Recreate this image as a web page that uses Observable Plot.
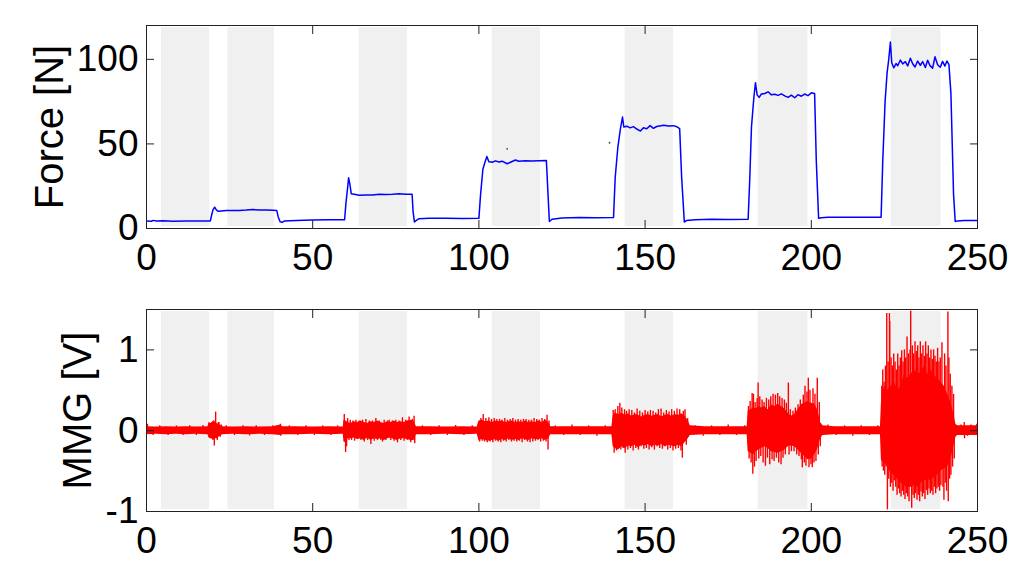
<!DOCTYPE html>
<html>
<head>
<meta charset="utf-8">
<script src="https://cdn.jsdelivr.net/npm/d3@7"></script>
<script src="https://cdn.jsdelivr.net/npm/@observablehq/plot@0.6"></script>
<style>
  html, body { margin: 0; padding: 0; background: #fff; }
  #chart svg { display: block; }
</style>
</head>
<body>
<div id="chart"></div>
<script>
// ---------- data ----------
const xTicks = [0, 50, 100, 150, 200, 250];
const forceTicks = [0, 50, 100];
const mmgTicks = [-1, 0, 1];
const forceTitle = "Force [N]";
const mmgTitle = "MMG [V]";

// shaded intervals (s)
const bandStart = [4.5, 24.5, 64, 104, 144, 184, 224];
const bandEnd   = [19, 38.5, 78.5, 118.5, 158.5, 199, 239];

// force trace (s, N)
const forceT = [0,1.5,2,3,5,8,12,16,19.2,19.6,20,20.5,21,21.5,22.5,24,28,30,32,34,36,38,39.2,39.6,40.2,40.8,41.5,45,50,55,59.6,
  60,60.5,60.8,61.2,61.6,62.5,64,66,68,70,72,74,76,78,79.9,80.2,80.6,81.2,82,85,90,95,100,
  100.5,101.2,101.8,102.4,103,104,105,106,107,108.5,110,111,112,114,116,118,120.3,120.8,121.2,122,125,130,135,140.5,
  141,141.8,142.5,143.2,143.6,144.5,145.5,146.5,147.5,148.6,149.5,150.5,151.5,152.5,153.5,155.6,157,158.5,159.5,160.4,
  161,161.8,162.5,165,170,175,181,
  181.5,182,182.7,183.2,183.7,184.3,185,186,187,188,189,190,191,192,193,194,195,196,197,198,199,200,201,
  201.5,202.2,203,205,210,215,221,
  221.5,222.2,222.8,223.3,223.8,224.2,224.8,225.5,226,226.8,227.5,228.3,229,229.8,230.5,231.2,232,232.8,233.5,234.3,235,235.7,236.5,237.2,238,238.8,239.5,240.2,240.8,241.4,
  242,242.8,243.3,244,246,250];
const forceV = [4.5,4.3,4.8,4.4,4.6,4.3,4.5,4.4,4.5,8,11,12.6,11,10.2,10.4,10.6,10.7,10.9,11.2,10.9,11,10.8,10.6,7,4.0,3.6,4.5,4.8,5.0,5.1,5.2,
  15,24,30,26,20.5,20.3,19.6,19.8,19.8,20.2,20.1,20.3,20.6,20.2,20.3,10,3.9,4.8,5.8,6,6.1,5.9,6,
  20,35,39,42.6,39.5,39.2,40,39.3,39.8,38.3,39.6,40.5,39.8,40.1,39.9,40,40.2,20,4.1,5.5,6.2,6.5,6.4,6.5,
  30,48,58,65.9,60,60.5,59.5,60.2,58.8,57.6,59.5,59,60.8,59.2,60.3,61,60.6,60.8,60.2,59,
  30,3.8,4.8,5.2,5.4,5.3,5.5,
  30,60,77,86.2,79,77.5,79.5,79.8,80.8,79,79.4,78.7,79.6,78.4,77.5,78.8,77.3,79.1,78.2,79.5,78.5,80.2,79.8,
  40,6,6.3,6.6,6.6,6.6,6.7,
  40,75,92,100,110.2,98,95,97.5,96.2,99.6,97.3,98.6,96.1,100.6,97.4,95.5,99,96.5,98.7,95.2,99.5,96.3,94.8,101.5,96.8,95.3,98.8,96,99,97,
  80,20,4.1,4.5,4.8,4.7];

// two stray points in the force panel
const strayT = [108.5, 139.3];
const strayV = [47.1, 50.7];

// MMG dense core envelope (s, V)
const mmgT = [0,3,6,9,12,15,18.5,
  18.8,19.5,20.2,20.8,21.5,22.2,22.9,
  26,30,34,38,40.3,41,45,50,55,59.2,
  59.4,60,60.6,61.5,62.5,63.5,64.5,65.5,66.5,67.5,68.5,69.5,70.5,71.5,72.5,73.5,74.5,75.5,76.5,77.5,78.5,79.5,80.5,81.2,
  85,90,95,99.5,
  100,101,102,103,104,105,106,107,108,109,110,111,112,113,114,115,116,117,118,119,120,121,121.6,
  125,130,135,140,
  140.4,141,142,143,144,145,146,147,148,149,150,151,152,153,154,155,156,157,158,159,160,161,162,163,163.6,
  168,172,176,180.7,
  181,181.8,182.6,183.4,184.2,185,186,187,188,189,190,191,192,193,194,195,196,197,198,199,200,201,202,202.8,203.5,
  207,211,215,220.8,
  221.1,221.6,222.2,223,224,225,226,227,228,229,230,231,232,233,234,235,236,237,238,239,240,241,242,242.9,243.5,244,250];
const mmgHi = [0.05,0.045,0.05,0.045,0.05,0.045,0.05,
  0.1,0.09,0.12,0.1,0.08,0.07,0.05,
  0.045,0.05,0.045,0.05,0.07,0.05,0.05,0.045,0.05,0.045,
  0.13,0.12,0.1,0.09,0.11,0.1,0.12,0.1,0.09,0.11,0.1,0.12,0.1,0.09,0.11,0.1,0.12,0.1,0.11,0.1,0.12,0.13,0.12,0.05,
  0.05,0.045,0.05,0.045,
  0.12,0.13,0.11,0.12,0.1,0.12,0.11,0.12,0.1,0.11,0.12,0.1,0.11,0.1,0.12,0.1,0.11,0.1,0.12,0.1,0.13,0.1,0.05,
  0.05,0.05,0.05,0.05,
  0.18,0.22,0.2,0.22,0.19,0.21,0.18,0.2,0.19,0.17,0.19,0.2,0.18,0.19,0.2,0.17,0.19,0.2,0.18,0.2,0.19,0.21,0.18,0.12,0.06,
  0.05,0.05,0.05,0.05,
  0.24,0.26,0.28,0.27,0.3,0.28,0.3,0.26,0.32,0.3,0.33,0.3,0.27,0.22,0.18,0.2,0.26,0.32,0.34,0.36,0.34,0.33,0.25,0.1,0.06,
  0.05,0.05,0.05,0.05,
  0.35,0.5,0.55,0.5,0.55,0.6,0.5,0.55,0.7,0.65,0.7,0.75,0.7,0.72,0.8,0.7,0.75,0.68,0.65,0.6,0.55,0.45,0.35,0.2,0.08,0.06,0.06];
const mmgLo = [-0.05,-0.045,-0.05,-0.045,-0.05,-0.045,-0.05,
  -0.09,-0.1,-0.11,-0.1,-0.09,-0.07,-0.05,
  -0.045,-0.05,-0.045,-0.05,-0.06,-0.05,-0.05,-0.045,-0.05,-0.045,
  -0.14,-0.15,-0.1,-0.1,-0.09,-0.11,-0.1,-0.12,-0.09,-0.12,-0.1,-0.11,-0.1,-0.12,-0.1,-0.09,-0.11,-0.12,-0.1,-0.1,-0.11,-0.12,-0.12,-0.05,
  -0.05,-0.045,-0.05,-0.045,
  -0.12,-0.11,-0.12,-0.13,-0.12,-0.11,-0.13,-0.11,-0.12,-0.1,-0.12,-0.11,-0.12,-0.1,-0.11,-0.12,-0.1,-0.11,-0.11,-0.1,-0.12,-0.1,-0.05,
  -0.05,-0.05,-0.05,-0.05,
  -0.2,-0.22,-0.24,-0.2,-0.22,-0.19,-0.2,-0.18,-0.21,-0.18,-0.19,-0.17,-0.2,-0.18,-0.19,-0.17,-0.2,-0.18,-0.19,-0.2,-0.18,-0.2,-0.15,-0.1,-0.06,
  -0.05,-0.05,-0.05,-0.05,
  -0.26,-0.28,-0.3,-0.26,-0.24,-0.22,-0.2,-0.22,-0.26,-0.27,-0.28,-0.26,-0.24,-0.2,-0.19,-0.2,-0.24,-0.28,-0.32,-0.36,-0.35,-0.3,-0.22,-0.1,-0.06,
  -0.05,-0.05,-0.05,-0.05,
  -0.37,-0.38,-0.4,-0.45,-0.53,-0.55,-0.6,-0.65,-0.68,-0.7,-0.7,-0.68,-0.7,-0.65,-0.62,-0.6,-0.62,-0.58,-0.55,-0.5,-0.47,-0.45,-0.35,-0.2,-0.08,-0.06,-0.06];

// MMG spikes (s, V)
const spikeT = [
  0.3,2,4,6.5,9,11,13,15,17,
  18.8,19.2,19.6,20,20.2,20.4,20.8,21,21.3,21.6,21.8,22.2,22.5,
  24,26.5,29,31,33,35.5,38,40.3,40.4,43,45.5,48,50.5,53,55.5,57.5,
  59.5,59.9,60.2,60.5,60.9,61.3,61.7,62.1,62.6,63,63.5,64,64.5,65,65.5,66,66.5,67,67.5,68,68.5,69,69.5,70,70.5,71,71.5,72,72.5,73,73.5,74,74.5,75,75.5,76,76.5,77,77.5,78,78.5,79,79.5,80,80.5,80.7,
  83,85.5,88,90.5,93,95.5,98,
  100.2,100.6,101,101.3,101.7,102.1,102.5,103,103.4,103.8,104.2,104.6,105,105.4,105.8,106.2,106.6,107,107.4,107.8,108.2,108.6,109,109.4,109.8,110.2,110.6,111,111.4,111.8,112.2,112.6,113,113.4,113.8,114.2,114.6,115,115.4,115.8,116.2,116.6,117,117.4,117.8,118.2,118.6,119,119.4,119.8,120.2,120.5,120.8,121.1,
  123,125.5,128,130.5,133,135.5,138,
  140.4,140.7,141,141.4,141.8,142.4,142.7,143,143.4,143.8,144,144.4,144.8,145.2,145.6,146,146.4,146.8,147.2,147.6,148,148.4,148.8,149.2,149.6,150,150.4,150.8,151.2,151.6,152,152.4,152.8,153.2,153.6,154,154.4,154.8,155.2,155.6,156,156.4,156.8,157.2,157.6,158,158.4,158.8,159.2,159.6,160,160.4,160.8,161.2,161.5,162,162.4,162.8,
  165,167.5,170,172.5,175,177.5,180,
  181.1,181.3,181.6,181.9,182.2,182.4,182.6,182.9,183.1,183.4,183.7,184,184.2,184.5,184.8,185.2,185.5,185.8,186.2,186.5,186.8,187.2,187.5,187.8,188.2,188.5,188.8,189.2,189.5,189.9,190.2,190.5,190.9,191.2,191.5,191.9,192.2,192.5,193.1,193.3,193.7,194,194.5,194.8,195.2,195.6,196,196.3,196.7,197,197.3,197.6,197.9,198.1,198.4,198.7,199.1,199.3,199.6,199.9,200.3,200.5,200.8,201.1,201.4,201.8,202.1,202.4,202.7,
  205,207.5,210,212.5,215,217.5,220,
  221.2,221.3,221.5,221.7,221.9,222.1,222.3,222.5,222.7,222.9,223.1,223.3,223.5,223.6,223.8,224,224.2,224.4,224.6,224.8,225,225.2,225.4,225.6,225.8,226,226.2,226.4,226.6,226.8,227,227.2,227.4,227.6,227.8,228,228.2,228.4,228.6,228.8,229,229.2,229.4,229.7,229.9,230.2,230.4,230.6,230.8,231,231.2,231.4,231.6,231.8,232,232.2,232.4,232.6,232.8,233,233.2,233.4,233.6,233.8,234,234.2,234.4,234.6,234.8,235,235.2,235.4,235.6,235.8,236,236.2,236.4,236.6,236.8,237,237.2,237.4,237.6,237.8,238,238.2,238.4,238.6,238.8,239,239.3,239.6,239.9,240.1,240.3,240.5,240.7,241.1,241.2,241.4,241.6,241.8,242,242.3,242.5,242.8,243,
  245,246,246.1,247,248,249,249.8];
const spikeV = [
  0.08,-0.06,0.06,-0.06,0.06,-0.06,0.06,-0.06,0.065,
  0.08,-0.1,0.1,-0.12,0.12,-0.19,0.23,-0.1,-0.12,0.1,0.1,-0.08,0.07,
  0.06,-0.06,0.06,-0.065,0.06,-0.06,0.06,0.08,-0.07,0.06,-0.06,0.06,-0.06,0.06,-0.06,0.06,
  0.2,-0.27,-0.2,0.15,-0.12,0.13,-0.12,0.12,-0.13,0.13,-0.11,0.12,-0.12,0.13,-0.14,0.14,-0.12,0.12,-0.17,0.12,-0.13,0.15,-0.12,0.12,-0.12,-0.14,0.13,-0.12,0.12,0.13,-0.12,0.12,-0.13,0.13,-0.15,0.12,-0.12,0.16,-0.13,0.13,-0.12,0.17,-0.15,0.14,0.18,-0.16,
  0.06,-0.06,0.06,-0.06,0.065,-0.06,0.06,
  -0.14,0.15,-0.13,0.2,-0.14,0.15,-0.15,0.16,-0.14,0.14,-0.15,0.15,-0.13,0.14,-0.14,0.14,-0.15,0.13,-0.13,0.15,-0.14,0.13,-0.12,0.14,-0.14,0.15,-0.13,0.13,-0.14,0.14,-0.13,0.13,-0.15,0.14,-0.12,0.14,-0.14,0.13,-0.15,0.13,-0.14,0.15,-0.13,0.14,-0.12,0.13,-0.14,0.15,-0.13,0.14,-0.14,0.19,-0.24,0.12,
  0.06,-0.06,0.07,-0.06,0.06,-0.07,0.06,
  0.25,-0.28,0.26,-0.25,0.3,0.34,-0.24,0.28,-0.22,0.26,-0.28,0.24,-0.24,0.26,-0.22,0.25,-0.25,0.22,-0.22,0.27,-0.24,0.24,-0.2,0.22,-0.23,0.25,-0.22,0.23,-0.24,0.25,-0.21,0.24,-0.24,0.22,-0.2,0.26,-0.22,0.27,-0.23,0.22,-0.2,0.25,-0.24,0.23,-0.22,0.26,-0.25,0.24,-0.23,0.27,-0.22,0.26,-0.25,-0.34,0.24,0.26,-0.18,0.15,
  0.06,-0.07,0.06,-0.06,0.07,-0.06,0.06,
  0.3,-0.35,0.36,-0.4,0.46,-0.54,0.45,-0.45,0.35,-0.38,0.4,0.59,-0.35,0.42,-0.32,0.38,-0.4,0.35,-0.44,0.4,-0.34,0.38,-0.42,0.42,-0.36,0.45,-0.38,0.44,-0.34,0.46,-0.4,0.42,-0.42,0.4,-0.34,0.38,-0.3,0.34,0.59,-0.3,0.26,-0.26,0.24,-0.26,0.28,-0.3,0.32,-0.32,0.38,-0.36,-0.46,0.44,-0.4,0.55,-0.44,0.48,0.65,-0.46,0.5,-0.42,-0.46,0.52,-0.4,0.45,-0.38,0.65,-0.3,0.35,-0.2,
  0.07,-0.06,0.06,-0.07,0.06,-0.06,0.06,
  0.55,-0.45,0.75,-0.5,0.6,-0.55,0.8,-0.45,1.45,-0.98,0.85,-0.6,1.45,1.35,-0.7,0.9,-0.65,0.8,-0.75,0.95,-0.62,0.85,-0.7,0.75,-0.8,0.95,-0.72,0.8,-0.78,0.9,-0.82,0.99,-0.75,0.85,-0.8,1.0,-0.85,0.9,-0.78,1.16,-0.82,0.95,-0.88,1.0,1.48,-0.96,1.05,-0.8,0.95,-0.84,1.1,-0.78,0.98,-0.86,1.05,-0.8,0.9,-0.88,1.1,-0.76,0.95,-0.82,1.05,-0.78,0.92,-0.85,1.1,-0.74,0.95,-0.8,1.05,-0.72,0.9,-0.78,1.0,-0.75,0.88,-0.8,1.0,-0.7,0.92,-0.78,0.85,-0.72,1.02,-0.7,0.85,-0.75,0.9,-0.68,1.09,-0.7,-0.86,0.95,-0.65,0.8,-0.75,1.47,-0.88,0.9,-0.6,0.7,-0.55,0.55,-0.45,0.45,-0.35,
  0.07,0.1,-0.1,-0.07,0.07,-0.06,0.08];

// ---------- tables built from the arrays ----------
const bands = bandStart.map((s, i) => ({x1: s, x2: bandEnd[i]}));
const force = forceT.map((t, i) => ({t, v: forceV[i]}));
const stray = strayT.map((t, i) => ({t, v: strayV[i]}));
const mmgEnv = mmgT.map((t, i) => ({t, hi: mmgHi[i], lo: mmgLo[i]}));
const spikes = spikeT.map((t, i) => ({t, v: spikeV[i]}));

const FONT = "'Liberation Sans', Arial, Helvetica, sans-serif";
const AX = "#222";

function axes(yTicks) {
  return [
    Plot.frame({stroke: AX, strokeWidth: 1}),
    Plot.axisX(xTicks, {anchor: "bottom", tickSize: -8, fill: "none", stroke: AX}),
    Plot.axisX(xTicks, {anchor: "top", tickSize: -8, fill: "none", stroke: AX}),
    Plot.axisY(yTicks, {anchor: "left", tickSize: -8, fill: "none", stroke: AX}),
    Plot.axisY(yTicks, {anchor: "right", tickSize: -8, fill: "none", stroke: AX}),
    Plot.axisX(xTicks, {anchor: "bottom", tickSize: 0, tickPadding: 15, label: null, fontSize: 37, fill: "#000", tickFormat: d => String(d)}),
    Plot.axisY(yTicks, {anchor: "left", tickSize: 0, tickPadding: 8, label: null, fontSize: 37, fill: "#000", tickFormat: d => String(d)})
  ];
}

const common = {
  width: 1024,
  marginLeft: 146,
  marginRight: 47,
  x: {domain: [0, 250]},
  style: {fontFamily: FONT, background: "#fff", overflow: "visible", color: "#000"}
};

const forcePlot = Plot.plot({
  ...common,
  height: 290,
  marginTop: 25,
  marginBottom: 62,
  y: {domain: [0, 120]},
  marks: [
    Plot.rect(bands, {x1: "x1", x2: "x2", fill: "#f0f0f0", insetTop: 2, insetBottom: 2}),
    Plot.line(force, {x: "t", y: "v", stroke: "#0000ff", strokeWidth: 1.5, clip: true}),
    Plot.dot(stray, {x: "t", y: "v", r: 0.9, fill: "#444", stroke: "none"}),
    ...axes(forceTicks),
    Plot.text([forceTitle], {frameAnchor: "left", rotate: -90, dx: -84, lineAnchor: "bottom", textAnchor: "middle", fontSize: 40, fill: "#000"})
  ]
});

const mmgPlot = Plot.plot({
  ...common,
  height: 292,
  marginTop: 19,
  marginBottom: 71,
  y: {domain: [-1, 1.5]},
  marks: [
    Plot.rect(bands, {x1: "x1", x2: "x2", fill: "#f0f0f0", insetTop: 2, insetBottom: 2}),
    Plot.areaY(mmgEnv, {x: "t", y1: "lo", y2: "hi", fill: "#ff0000", clip: true}),
    Plot.ruleX(spikes, {x: "t", y1: 0, y2: "v", stroke: "#ff0000", strokeWidth: 1.4, clip: true}),
    ...axes(mmgTicks),
    Plot.text([mmgTitle], {frameAnchor: "left", rotate: -90, dx: -56, lineAnchor: "bottom", textAnchor: "middle", fontSize: 40, fill: "#000"})
  ]
});

document.getElementById("chart").append(forcePlot, mmgPlot);
</script>
</body>
</html>
